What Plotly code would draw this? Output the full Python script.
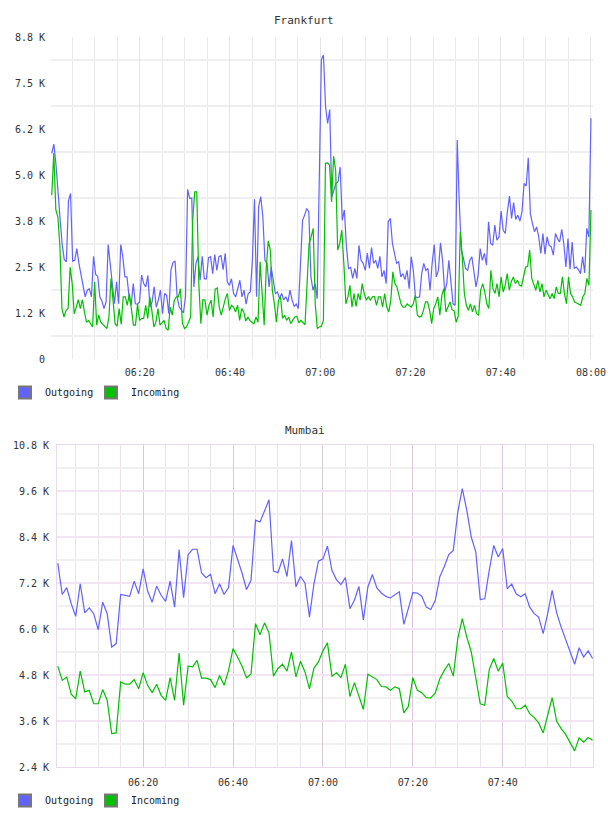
import plotly.graph_objects as go
import pandas as pd

W, H = 608, 816
BLUE = "#6262ff"
GREEN = "#00c000"
FONT = "DejaVu Sans Mono"

# ---------------- data ----------------
fk_outgoing = [
    5590, 5840, 5300, 4400, 3800, 3100, 2700, 2640, 4300, 4500, 2660, 2680, 3000, 2600, 2280, 2050, 1690, 1870,
    1910, 1690, 2790, 2300, 2250, 1690, 1580, 1370, 1550, 3110, 2600, 2050, 1500, 2100, 1500, 3110, 2780, 2230,
    2230, 1690, 1460, 2050, 1500, 1490, 1550, 2280, 2050, 1960, 2270, 1410, 1550, 1960, 1410, 1600, 1870, 1230,
    1780, 1730, 1230, 2410, 2620, 2660, 1690, 1410, 1320, 1250, 1690, 4610, 4360, 4380, 1960, 2600, 2780, 2140,
    2790, 2180, 2180, 2750, 2780, 2320, 2840, 2410, 2780, 2810, 2430, 2870, 2100, 2000, 2180, 1780, 1690, 1960,
    2140, 1690, 1870, 1490, 1780, 1820, 2680, 4340, 1690, 4140, 4410, 3860, 2680, 2600, 1960, 2500, 2140, 1780,
    1820, 1640, 1780, 1610, 1690, 1550, 1870, 1600, 1430, 1490, 1370, 2410, 3770, 3910, 4090, 4000, 2230, 1870,
    2050, 1640, 4410, 8130, 8260, 6860, 6400, 6780, 4410, 4590, 4770, 4820, 5220, 3770, 4050, 3050, 2460, 2490,
    2190, 2460, 2190, 3090, 2680, 2600, 2410, 2880, 2460, 3030, 2600, 2680, 2460, 2790, 2230, 2410, 2050, 3730,
    3820, 3140, 2870, 2600, 2640, 2230, 2320, 2160, 2410, 1910, 2780, 2410, 1690, 1670, 1690, 2320, 2600, 2410,
    2460, 1870, 2600, 3110, 2230, 2410, 3160, 2680, 1820, 2050, 2680, 2140, 1500, 1460, 5950, 4230, 2960, 2730,
    2460, 2410, 2680, 2780, 2410, 1960, 2280, 3000, 2680, 2870, 2550, 3730, 3140, 3090, 3640, 3230, 3320, 4020,
    3500, 3410, 4000, 4430, 3820, 4250, 3790, 3910, 3750, 4000, 4770, 4700, 5470, 3950, 3680, 3460, 3590, 3320,
    2870, 3410, 2850, 3320, 3090, 3050, 2820, 3410, 3270, 3180, 3520, 3140, 2500, 3270, 2440, 3180, 2460, 2500,
    2430, 2320, 2780, 2340, 3550, 3320, 6540,
]
fk_incoming = [
    4450, 5600, 4050, 3860, 3050, 1370, 1140, 1320, 1370, 2490, 2050, 1230, 1410, 1610, 1370, 1610, 1280, 1000,
    1050, 960, 870, 2100, 920, 1190, 1000, 940, 890, 830, 1140, 2190, 1600, 960, 890, 1370, 940, 1690, 1690, 1460,
    1780, 1410, 920, 920, 1490, 1050, 1100, 1100, 1460, 1100, 1690, 1320, 870, 1000, 1370, 920, 1000, 1050, 830,
    780, 1410, 1190, 1600, 1690, 1690, 1910, 960, 830, 870, 1000, 1140, 3770, 4540, 4540, 2050, 960, 1610, 1600,
    1190, 1460, 1600, 1140, 1900, 1930, 1410, 1190, 1460, 1640, 1780, 1320, 1460, 1410, 1280, 1460, 1050, 1370,
    1280, 1030, 1140, 1050, 1000, 960, 1140, 1000, 2640, 1690, 920, 2460, 3210, 2960, 1870, 1500, 1000, 1600, 1690,
    1100, 1190, 1050, 1140, 960, 1050, 1140, 1160, 980, 1050, 980, 930, 2050, 3140, 3320, 3550, 1500, 830, 870,
    890, 1050, 5320, 5330, 5270, 4270, 5510, 5130, 2960, 3140, 3500, 2600, 1500, 1690, 2000, 1410, 1780, 1430,
    1780, 1600, 2050, 1780, 1600, 1690, 1600, 1690, 1700, 1460, 1690, 1690, 1410, 1780, 1410, 1280, 1600, 2370,
    2050, 1960, 1690, 1500, 1410, 1410, 1500, 1460, 1410, 1500, 1730, 1190, 1140, 1160, 1320, 1550, 1550, 1320,
    960, 1370, 1500, 1690, 1190, 1730, 1910, 1280, 1410, 1550, 1340, 1310, 1000, 1160, 3460, 2780, 1780, 1460,
    1320, 1500, 1280, 1460, 1230, 1190, 1870, 2050, 1820, 1500, 1370, 2410, 1910, 1780, 2050, 1690, 2230, 1820,
    2000, 2320, 1870, 2100, 2230, 2050, 2140, 2000, 1980, 2230, 2500, 2520, 2960, 2190, 2050, 1870, 2140, 1820,
    2050, 1690, 1870, 1730, 1640, 1780, 1640, 1960, 1780, 1780, 2230, 1780, 1500, 2230, 1780, 1690, 1550, 1520,
    1490, 1460, 1690, 1780, 2190, 2000, 4050,
]
mb_outgoing = [
    7720, 6900, 7080, 6660, 6330, 7180, 6420, 6550, 6400, 5980,
    6700, 6400, 5530, 5620, 6900, 6880, 6850, 7250, 6920, 7570,
    6990, 6700, 7120, 6880, 6720, 7250, 6570, 8070, 6820, 7940,
    8080, 8080, 7460, 7340, 7430, 6920, 7180, 6900, 7080, 8180,
    7830, 7460, 7030, 7270, 8840, 8790, 9080, 9370, 7510, 7470,
    7830, 7370, 8310, 7100, 7370, 7200, 6310, 7180, 7770, 7830,
    8160, 7530, 7290, 7160, 7340, 6530, 6750, 7110, 6240, 7100,
    7420, 7070, 6940, 6850, 6810, 6900, 6970, 6120, 6570, 6950,
    6940, 6850, 6570, 6510, 6750, 7360, 7630, 7940, 8050, 9050,
    9660, 9100, 8400, 8010, 6770, 6790, 7530, 8180, 7880, 8100,
    7050, 7170, 6920, 6840, 6920, 6570, 6400, 6310, 5880, 6400,
    7010, 6420, 6050, 5720, 5400, 5080, 5510, 5270, 5430, 5230,
]
mb_incoming = [
    5030, 4660, 4750, 4300, 4180, 4900, 4360, 4400, 4050, 4050,
    4420, 4140, 3270, 3290, 4620, 4560, 4560, 4680, 4440, 4860,
    4530, 4340, 4560, 4270, 4140, 4730, 4140, 5370, 4010, 5030,
    5010, 5180, 4720, 4720, 4680, 4470, 4790, 4530, 4920, 5490,
    5270, 5030, 4730, 4830, 6140, 5850, 6160, 5900, 4770, 4970,
    5080, 4900, 5400, 4750, 5160, 4880, 4440, 4980, 5140, 5430,
    5640, 4770, 4860, 4730, 5080, 4240, 4600, 4230, 3900, 4820,
    4750, 4680, 4500, 4490, 4400, 4490, 4440, 3810, 3980, 4730,
    4400, 4340, 4210, 4200, 4330, 4700, 4920, 5100, 4770, 5750,
    6270, 5790, 5400, 4730, 4050, 4010, 4940, 5230, 4900, 5110,
    4240, 4120, 3920, 3920, 4010, 3790, 3690, 3550, 3290, 3750,
    4210, 3590, 3400, 3250, 3050, 2820, 3160, 3050, 3170, 3100,
]

DAY = "2024-01-01 "
fk_start, fk_end = DAY + "06:00:30", DAY + "08:00:00"
mb_start, mb_end = DAY + "06:01:00", DAY + "08:00:00"

time_labels = ["06:20", "06:40", "07:00", "07:20", "07:40", "08:00"]
fk_yticks = [0, 1250, 2500, 3750, 5000, 6250, 7500, 8750]
fk_ylabels = ["0", "1.2 K", "2.5 K", "3.8 K", "5.0 K", "6.2 K", "7.5 K", "8.8 K"]
fk_yminor = [625, 1875, 3125, 4375, 5625, 6875, 8125]
mb_yticks = [2400, 3600, 4800, 6000, 7200, 8400, 9600, 10800]
mb_ylabels = ["2.4 K", "3.6 K", "4.8 K", "6.0 K", "7.2 K", "8.4 K", "9.6 K", "10.8 K"]
mb_yminor = [3000, 4200, 5400, 6600, 7800, 9000, 10200]

five_min = [DAY + t.strftime("%H:%M") for t in pd.date_range(DAY + "06:05", DAY + "08:00", freq="5min")]


def py(p):
    return 1 - p / H


fk_t_out = pd.date_range(fk_start, fk_end, periods=len(fk_outgoing))
fk_t_in = pd.date_range(fk_start, fk_end, periods=len(fk_incoming))
mb_t = pd.date_range(mb_start, mb_end, periods=len(mb_outgoing))

fig = go.Figure()
fig.add_trace(go.Scatter(x=fk_t_out, y=fk_outgoing, mode="lines", line=dict(color=BLUE, width=1.2),
                         xaxis="x", yaxis="y", showlegend=False, hoverinfo="skip"))
fig.add_trace(go.Scatter(x=fk_t_in, y=fk_incoming, mode="lines", line=dict(color=GREEN, width=1.2),
                         xaxis="x", yaxis="y", showlegend=False, hoverinfo="skip"))
fig.add_trace(go.Scatter(x=mb_t, y=mb_outgoing, mode="lines", line=dict(color=BLUE, width=1.2),
                         xaxis="x2", yaxis="y2", showlegend=False, hoverinfo="skip"))
fig.add_trace(go.Scatter(x=mb_t, y=mb_incoming, mode="lines", line=dict(color=GREEN, width=1.2),
                         xaxis="x2", yaxis="y2", showlegend=False, hoverinfo="skip"))

# legend entries: one legend box per entry so the swatches sit where the reference has them
legend_specs = [
    ("legend", "Outgoing", BLUE, "x", "y"),
    ("legend3", "Incoming", GREEN, "x", "y"),
    ("legend2", "Outgoing", BLUE, "x2", "y2"),
    ("legend4", "Incoming", GREEN, "x2", "y2"),
]
for leg, name, col, xa, ya in legend_specs:
    fig.add_trace(go.Scatter(x=[None], y=[None], mode="markers", name=name, legend=leg,
                             marker=dict(symbol="square", size=10, color=col,
                                         line=dict(color="#777777", width=1)),
                             xaxis=xa, yaxis=ya, hoverinfo="skip"))

tickfont = dict(family=FONT, size=10, color="#333333")
legfont = dict(family=FONT, size=10, color="#222222")


def legend_box(xpx, ypx):
    return dict(orientation="h", x=xpx / W, y=py(ypx), xanchor="left", yanchor="top",
                font=legfont, bgcolor="rgba(0,0,0,0)", itemsizing="constant")


fig.update_layout(
    width=W, height=H, margin=dict(l=0, r=0, t=0, b=0, autoexpand=False),
    paper_bgcolor="white", plot_bgcolor="white",
    xaxis=dict(domain=[51 / W, 593 / W], anchor="y", type="date", automargin=False,
               range=[DAY + "06:00:20", DAY + "08:00:27"],
               tickvals=[DAY + t for t in time_labels], ticktext=time_labels,
               showgrid=True, gridcolor="#e4e4e4", gridwidth=1,
               minor=dict(tickvals=five_min, showgrid=True, gridcolor="#e9e9e9", gridwidth=1, ticks=""),
               showline=False, zeroline=False, ticks="", tickfont=tickfont, ticklabelstandoff=6),
    yaxis=dict(domain=[py(359), py(37)], anchor="x", range=[0, 8750], automargin=False,
               tickvals=fk_yticks, ticktext=fk_ylabels, showgrid=False,
               minor=dict(tickvals=fk_yminor, showgrid=True, gridcolor="#efefef", gridwidth=2, ticks=""),
               showline=False, zeroline=False, ticks="", tickfont=tickfont, ticklabelstandoff=5),
    xaxis2=dict(domain=[57 / W, 593 / W], anchor="y2", type="date", automargin=False,
                range=[DAY + "06:00:50", DAY + "08:00:05"],
                tickvals=[DAY + t for t in time_labels[:-1]], ticktext=time_labels[:-1],
                showgrid=True, gridcolor="#dcc6e0", gridwidth=1,
                minor=dict(tickvals=five_min, showgrid=True, gridcolor="#ebe2ee", gridwidth=1, ticks=""),
                showline=True, mirror=True, linecolor="#ecd8ec", linewidth=1,
                zeroline=False, ticks="", tickfont=tickfont, ticklabelstandoff=6),
    yaxis2=dict(domain=[py(767), py(445)], anchor="x2", range=[2400, 10800], automargin=False,
                tickvals=mb_yticks, ticktext=mb_ylabels,
                showgrid=True, gridcolor="#f3e4f3", gridwidth=2,
                minor=dict(tickvals=mb_yminor, showgrid=True, gridcolor="#f0f0f0", gridwidth=2, ticks=""),
                showline=True, mirror=True, linecolor="#ecd8ec", linewidth=1,
                zeroline=False, ticks="", tickfont=tickfont, ticklabelstandoff=5),
    legend=legend_box(5, 378),
    legend3=legend_box(91, 378),
    legend2=legend_box(5, 786),
    legend4=legend_box(91, 786),
    annotations=[
        dict(text="Frankfurt", x=304 / W, y=py(20), xref="paper", yref="paper", showarrow=False,
             xanchor="center", yanchor="middle", font=dict(family=FONT, size=11, color="#333333")),
        dict(text="Mumbai", x=305 / W, y=py(430), xref="paper", yref="paper", showarrow=False,
             xanchor="center", yanchor="middle", font=dict(family=FONT, size=11, color="#333333")),
    ],
)

fig.write_html("out.html")
